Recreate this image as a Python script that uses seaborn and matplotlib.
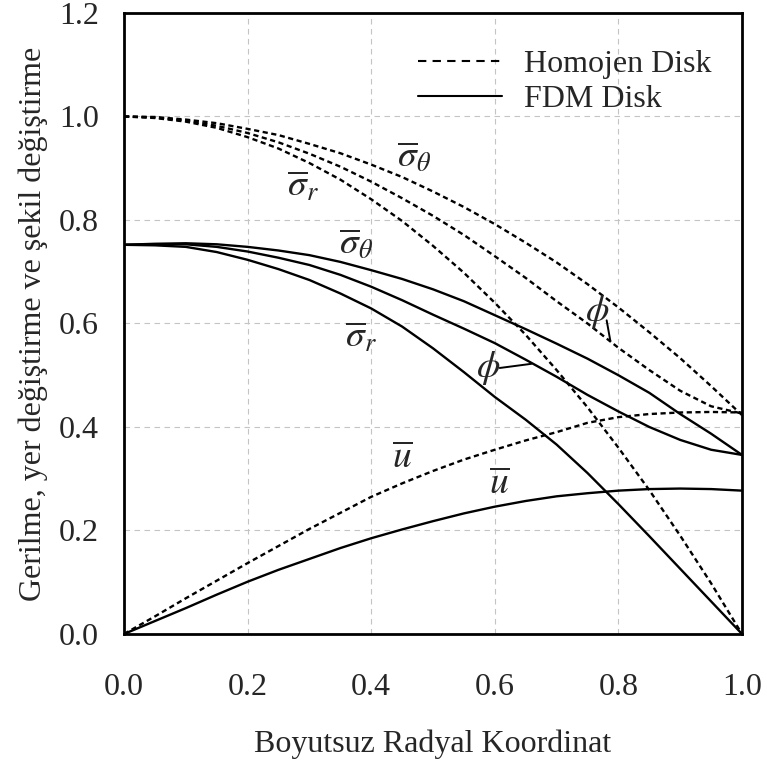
import numpy as np
import pandas as pd
import matplotlib
matplotlib.use('Agg')
import matplotlib.pyplot as plt
from matplotlib.ticker import MultipleLocator, AutoMinorLocator
from matplotlib.lines import Line2D
import seaborn as sns

# boyutsuz radyal koordinat
r = [0.00, 0.05, 0.10, 0.15, 0.20, 0.25, 0.30, 0.35, 0.40, 0.45, 0.50,
     0.55, 0.60, 0.65, 0.70, 0.75, 0.80, 0.85, 0.90, 0.95, 1.00]

# Homojen disk (kesikli)
hom_sig_t = [1.000, 0.999, 0.994, 0.987, 0.976, 0.964, 0.947, 0.929, 0.907, 0.883, 0.855,
             0.825, 0.792, 0.756, 0.718, 0.676, 0.631, 0.583, 0.533, 0.479, 0.423]
hom_sig_r = [1.000, 0.997, 0.990, 0.978, 0.960, 0.938, 0.910, 0.878, 0.840, 0.798, 0.750,
             0.698, 0.640, 0.578, 0.510, 0.438, 0.360, 0.278, 0.190, 0.098, 0.000]
hom_phi = [1.000, 0.998, 0.992, 0.982, 0.968, 0.950, 0.928, 0.903, 0.874, 0.842, 0.808,
           0.771, 0.730, 0.688, 0.643, 0.600, 0.553, 0.510, 0.470, 0.440, 0.426]
hom_u = [0.000, 0.034, 0.069, 0.103, 0.137, 0.170, 0.203, 0.234, 0.265, 0.291, 0.315,
         0.337, 0.356, 0.374, 0.390, 0.408, 0.419, 0.425, 0.428, 0.429, 0.428]

# FDM disk (surekli)
fdm_sig_t = [0.752, 0.754, 0.755, 0.753, 0.748, 0.741, 0.732, 0.719, 0.703, 0.686, 0.666,
             0.643, 0.616, 0.589, 0.561, 0.532, 0.500, 0.466, 0.425, 0.387, 0.346]
fdm_phi = [0.752, 0.753, 0.753, 0.748, 0.739, 0.727, 0.713, 0.694, 0.671, 0.645, 0.617,
           0.590, 0.562, 0.530, 0.497, 0.462, 0.430, 0.400, 0.375, 0.356, 0.346]
fdm_sig_r = [0.752, 0.751, 0.748, 0.738, 0.723, 0.705, 0.684, 0.658, 0.629, 0.594, 0.552,
             0.506, 0.458, 0.414, 0.366, 0.311, 0.251, 0.189, 0.126, 0.063, 0.000]
fdm_u = [0.000, 0.025, 0.050, 0.076, 0.101, 0.124, 0.145, 0.166, 0.185, 0.202, 0.218,
         0.233, 0.246, 0.257, 0.266, 0.272, 0.277, 0.280, 0.281, 0.280, 0.277]

sns.set_style('white')
plt.rcParams['font.family'] = ['Liberation Serif', 'DejaVu Serif']
plt.rcParams['mathtext.fontset'] = 'stix'

fig = plt.figure(figsize=(7.67, 7.62), dpi=100)
ax = fig.add_axes([0.1617, 0.168, 0.8057, 0.815])

dash = (0, (2.2, 1.5))
for vals in [hom_sig_t, hom_sig_r, hom_phi, hom_u]:
    sns.lineplot(x=r, y=vals, ax=ax, color='black', lw=1.7, linestyle=dash)
for vals in [fdm_sig_t, fdm_phi, fdm_sig_r, fdm_u]:
    sns.lineplot(x=r, y=vals, ax=ax, color='black', lw=1.7, linestyle='-')

ax.set_xlim(0, 1)
ax.set_ylim(0, 1.2)
ax.xaxis.set_major_locator(MultipleLocator(0.2))
ax.yaxis.set_major_locator(MultipleLocator(0.2))
ax.xaxis.set_minor_locator(AutoMinorLocator(5))
ax.yaxis.set_minor_locator(AutoMinorLocator(5))
ax.xaxis.set_major_formatter(plt.FormatStrFormatter('%.1f'))
ax.yaxis.set_major_formatter(plt.FormatStrFormatter('%.1f'))
ax.tick_params(which='major', direction='out', length=8, width=1.2,
               labelsize=23, color='black', pad=10)
ax.tick_params(axis='x', which='major', pad=20)
ax.tick_params(which='minor', direction='in', length=6, width=1.0, color='black')
ax.tick_params(top=False, right=False, which='both')
for s in ax.spines.values():
    s.set_linewidth(2)
    s.set_color('black')
ax.grid(True, which='major', color='#c4c4c4', linestyle=(0, (5, 4)), lw=0.8)
ax.set_axisbelow(True)

ax.set_xlabel('Boyutsuz Radyal Koordinat', fontsize=23, labelpad=20)
ax.set_ylabel('Gerilme, yer değiştirme ve şekil değiştirme', fontsize=23, labelpad=8)

# egri etiketleri
fs = 27
ax.text(0.47, 0.92, r'$\overline{\sigma}_{\theta}$', fontsize=fs, ha='center', va='center')
ax.text(0.29, 0.865, r'$\overline{\sigma}_{r}$', fontsize=fs, ha='center', va='center')
ax.text(0.375, 0.752, r'$\overline{\sigma}_{\theta}$', fontsize=fs, ha='center', va='center')
ax.text(0.383, 0.572, r'$\overline{\sigma}_{r}$', fontsize=fs, ha='center', va='center')
ax.text(0.451, 0.338, r'$\overline{u}$', fontsize=fs, ha='center', va='center')
ax.text(0.607, 0.288, r'$\overline{u}$', fontsize=fs, ha='center', va='center')
ax.text(0.766, 0.622, r'$\phi$', fontsize=fs, ha='center', va='center')
ax.text(0.589, 0.513, r'$\phi$', fontsize=fs, ha='center', va='center')
ptr = dict(arrowstyle='-', color='black', lw=1.4, shrinkA=0, shrinkB=0)
ax.annotate('', xy=(0.787, 0.566), xytext=(0.781, 0.606), arrowprops=ptr)
ax.annotate('', xy=(0.659, 0.522), xytext=(0.608, 0.514), arrowprops=ptr)

handles = [Line2D([], [], color='black', lw=1.5, linestyle=(0, (4, 3))),
           Line2D([], [], color='black', lw=1.5, linestyle='-')]
ax.legend(handles, ['Homojen Disk', 'FDM Disk'], loc='upper right', frameon=False,
          fontsize=23, handlelength=2.6, handletextpad=0.7, labelspacing=0.18,
          bbox_to_anchor=(0.997, 0.987))

fig.savefig('out.png', dpi=100)
